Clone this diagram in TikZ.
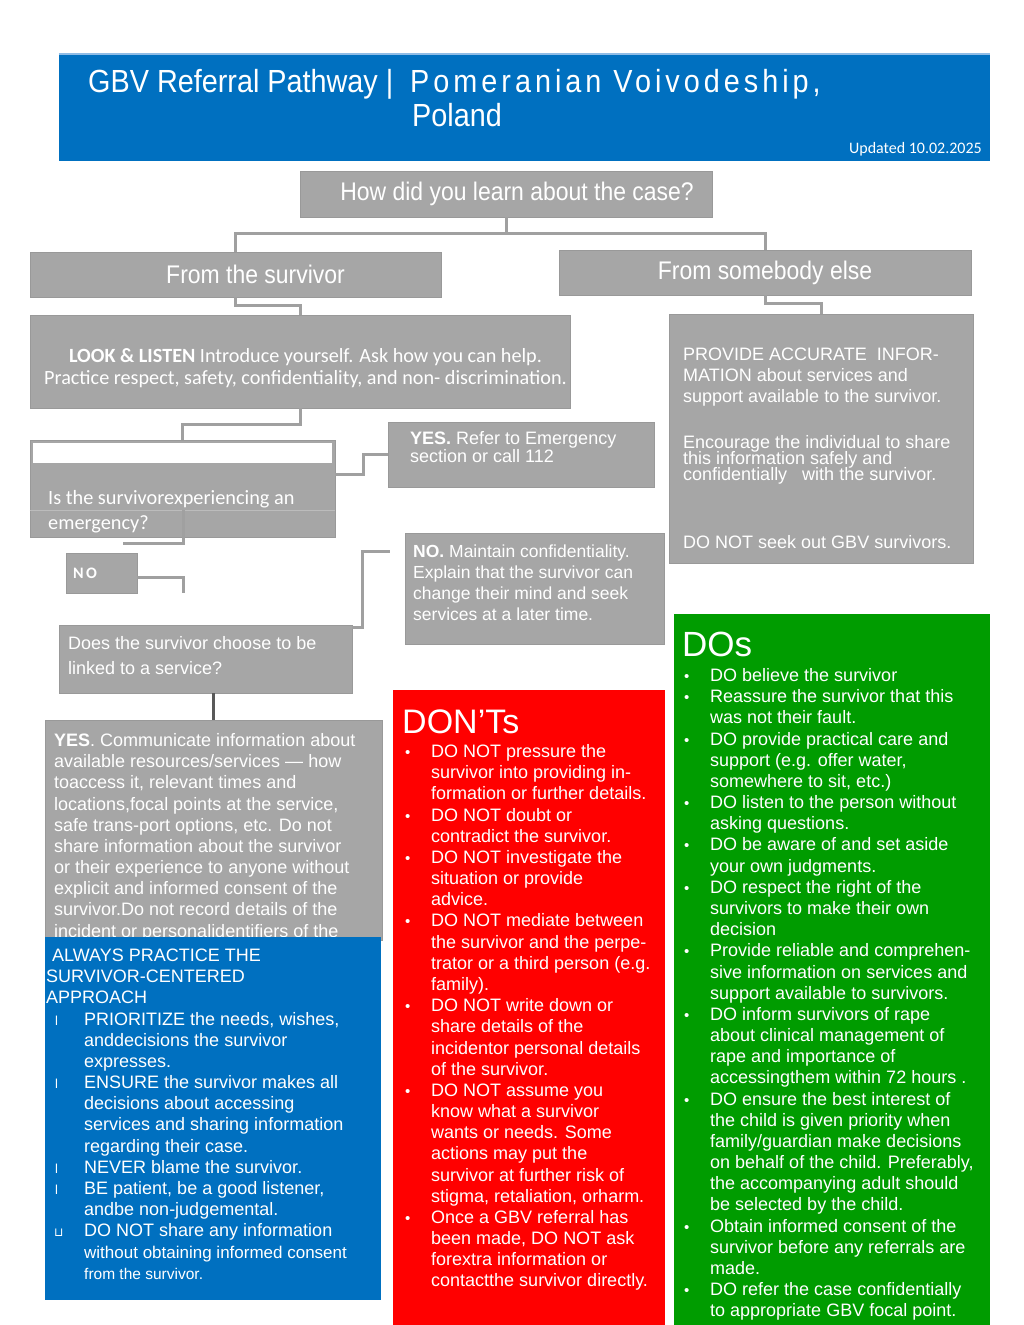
\documentclass[tikz,border=0pt]{standalone}
\usepackage{fontspec}
\setmainfont{Liberation Sans}
\newfontfamily\calib{Carlito}
\newfontfamily\narrowf{Liberation Sans}[FakeStretch=0.9]
\newfontfamily\dvs{DejaVu Sans}
\usetikzlibrary{calc}
\definecolor{gboxc}{HTML}{A6A6A6}
\definecolor{lnc}{HTML}{A0A0A0}
\definecolor{hblue}{HTML}{0070C0}
\definecolor{hline}{HTML}{8FBCE6}
\definecolor{dred}{HTML}{FF0000}
\definecolor{dgreen}{HTML}{009C00}
\newcommand\fsz[2]{\fontsize{#1}{#2}\selectfont\lineskiplimit=-50pt\relax}
\newcommand\lst{\fsz{18}{21.17}}
\newcommand\bl{\strut\makebox[26pt][l]{\fontsize{15}{15}\selectfont\textbullet}}
\newcommand\ci{\strut\hspace*{26pt}}
\newcommand\sbl{\strut\hspace*{9pt}\makebox[29pt][l]{\fontsize{13}{13}\selectfont l}}
\newcommand\sbu{\strut\hspace*{8pt}\makebox[30pt][l]{\dvs\fontsize{12}{12}\selectfont ⊔}}
\newcommand\sci{\strut\hspace*{38pt}}
\begin{document}
\begin{tikzpicture}[x=1pt,y=-1pt,
  gb/.style={fill=gboxc, draw=gboxc!92!black, line width=0.8pt, inner sep=0pt},
  conn/.style={draw=lnc, line width=3pt},
  wt/.style={inner sep=0pt, anchor=north west, align=left, text=white},
  head/.style={gb, text=white, font=\narrowf\fontsize{25.5}{28}\selectfont},
  plain/.style={fill=#1, inner sep=0pt}
]
\path[use as bounding box, fill=white] (0,0) rectangle (1024,1325);

% header
\node[plain=hblue, minimum width=931pt, minimum height=107pt] (hdr) at (524.5,107.5) {};
\draw[draw=hline, line width=1.5pt] (hdr.north west) -- (hdr.north east);
\node[anchor=base west, inner sep=0pt, text=white, font=\narrowf\fontsize{32}{36}\selectfont] (t1) at (88,92) {GBV Referral Pathway |};
\node[anchor=base west, inner sep=0pt, text=white, font=\narrowf\fontsize{32}{36}\selectfont\addfontfeature{LetterSpace=12.5}] (t2) at (410,92) {Pomeranian Voivodeship,};
\node[anchor=base west, inner sep=0pt, text=white, font=\narrowf\fontsize{32}{36}\selectfont] (t3) at (412,126) {Poland};
\node[anchor=base east, inner sep=0pt, text=white, font=\calib\fontsize{16}{18}\selectfont] (upd) at (982,153) {Updated 10.02.2025};

% heading boxes
\node[head, minimum width=412pt, minimum height=46pt] (q) at (506,194) {\hspace*{22pt}How did you learn about the case?};
\node[head, minimum width=411pt, minimum height=45pt] (fs) at (235.5,274.5) {\hspace*{40pt}From the survivor};
\node[head, minimum width=412pt, minimum height=45pt] (fe) at (765,272.5) {From somebody else};

% gray boxes
\node[gb, minimum width=540pt, minimum height=93pt] (look) at (300,361.5) {};
\node[gb, minimum width=304pt, minimum height=249pt] (prov) at (821,438.5) {};
\node[gb, minimum width=305pt, minimum height=97pt] (emerg) at (182.5,488.5) {};
\fill[white] ($(emerg.north west)+(3,3)$) rectangle ($(emerg.north east)+(-3,23)$);
\draw[draw=gboxc!75!white, line width=0.8pt] ($(emerg.west)+(0,21.5)$) -- ($(emerg.east)+(0,21.5)$);
\node[gb, minimum width=266pt, minimum height=65pt] (yesr) at (521,454.5) {};
\node[gb, minimum width=71pt, minimum height=40pt] (nobox) at (101.5,573) {};
\node[gb, minimum width=259pt, minimum height=111pt] (nom) at (534.5,588.5) {};
\node[gb, minimum width=293pt, minimum height=68pt] (does) at (205.5,659) {};
\node[gb, minimum width=337pt, minimum height=220pt] (yesc) at (213.5,830) {};

% connectors
\draw[conn] (q.south) -- ++(0,16) coordinate (qj) -| (fs.north);
\draw[conn] (qj) -| (fe.north);
\draw[conn] (fs.south) -- ++(0,8) -| (look.north);
\draw[conn] (fe.south) -- ++(0,8) -| (prov.north);
\draw[conn] (look.south) -- ++(0,16) -| (emerg.north);
\draw[conn] ($(emerg.north east)+(0,35)$) -- ++(28,0) |- (yesr.west);
\coordinate (ei) at (183,510);
\coordinate (eo) at (123,543);
\draw[conn] (ei) |- (eo);
\coordinate (nx) at (183,593);
\draw[conn] ($(nobox.east)+(0,4)$) -| (nx);
\coordinate (nm) at (390,551);
\draw[conn] ($(does.north east)+(0,3)$) -- ++(10,0) |- (nm);
\draw[line width=3pt, draw=black!65] (does.south -| yesc.north) -- (yesc.north);

% texts in gray boxes
\node[inner sep=0pt, anchor=north, align=center, text=white, font=\calib\fsz{20.2}{22}] (lookt) at (305.5,346.5)
 {\strut\textbf{LOOK \& LISTEN} Introduce yourself. Ask how you can help.\\\strut Practice respect, safety, confidentiality, and non- discrimination.};
\node[wt, font=\lst] (p1) at (683,345.0) {\strut PROVIDE ACCURATE\ \ INFOR-\\\strut MATION about services and\\\strut support available to the survivor.};
\node[wt, font=\fsz{18}{16}] (p2) at (683,435.2) {\strut Encourage the individual to share\\\strut this information safely and\\\strut confidentially\ \ \ with the survivor.};
\node[wt, font=\lst] (p3) at (683,533.6) {\strut DO NOT seek out GBV survivors.};
\node[wt, font=\calib\fsz{20.3}{25}] (emt) at (48,486.5) {\strut Is the survivorexperiencing an\\\strut emergency?};
\node[wt, font=\fsz{18}{18}] (yest) at (410,430.8) {\strut\textbf{YES.} Refer to Emergency\\\strut section or call 112};
\node[anchor=base west, inner sep=0pt, text=white, font=\calib\bfseries\fontsize{16}{18}\selectfont\addfontfeature{LetterSpace=15}] (not) at (73,578.2) {NO};
\node[wt, font=\fsz{17.5}{21}] (nomt) at (413,542.6) {\strut\textbf{NO.} Maintain confidentiality.\\\strut Explain that the survivor can\\\strut change their mind and seek\\\strut services at a later time.};
\node[wt, font=\fsz{18}{25}] (doest) at (68,631.9) {\strut Does the survivor choose to be\\\strut linked to a service?};
\node[wt, font=\lst] (yesct) at (54,731.6) {\strut\textbf{YES}. Communicate information about\\
\strut available resources/services — how\\
\strut toaccess it, relevant times and\\
\strut locations,focal points at the service,\\
\strut safe trans-port options, etc. Do not\\
\strut share information about the survivor\\
\strut or their experience to anyone without\\
\strut explicit and informed consent of the\\
\strut survivor.Do not record details of the\\
\strut incident or personalidentifiers of the};

% blue box
\node[plain=hblue, minimum width=336pt, minimum height=363pt] (alw) at (213,1118.5) {};
\node[wt, font=\lst] (alwt) at (46,946.6) {\strut\hspace*{6pt}ALWAYS PRACTICE THE\\\strut SURVIVOR-CENTERED\\\strut APPROACH\\
\sbl PRIORITIZE the needs, wishes,\\\sci anddecisions the survivor\\\sci expresses.\\
\sbl ENSURE the survivor makes all\\\sci decisions about accessing\\\sci services and sharing information\\\sci regarding their case.\\
\sbl NEVER blame the survivor.\\
\sbl BE patient, be a good listener,\\\sci andbe non-judgemental.\\
\sbu DO NOT share any information\\\sci{\fontsize{17}{21.17}\selectfont without obtaining informed consent}\\\sci{\fontsize{15.5}{21.17}\selectfont from the survivor.}};

% red box
\node[plain=dred, minimum width=272pt, minimum height=640pt] (dnt) at (529,1010) {};
\node[anchor=base west, inner sep=0pt, text=white, font=\fontsize{34}{36}\selectfont] (dntt) at (402,733) {DON’Ts};
\node[wt, font=\lst] (dntl) at (405,742.6) {\bl DO NOT pressure the\\\ci survivor into providing in-\\\ci formation or further details.\\
\bl DO NOT doubt or\\\ci contradict the survivor.\\
\bl DO NOT investigate the\\\ci situation or provide\\\ci advice.\\
\bl DO NOT mediate between\\\ci the survivor and the perpe-\\\ci trator or a third person (e.g.\\\ci family).\\
\bl DO NOT write down or\\\ci share details of the\\\ci incidentor personal details\\\ci of the survivor.\\
\bl DO NOT assume you\\\ci know what a survivor\\\ci wants or needs. Some\\\ci actions may put the\\\ci survivor at further risk of\\\ci stigma, retaliation, orharm.\\
\bl Once a GBV referral has\\\ci been made, DO NOT ask\\\ci forextra information or\\\ci contactthe survivor directly.};

% green box
\node[plain=dgreen, minimum width=316pt, minimum height=716pt] (dos) at (832,972) {};
\node[anchor=base west, inner sep=0pt, text=white, font=\fontsize{35}{36}\selectfont] (dost) at (682,656) {DOs};
\node[wt, font=\lst] (dosl) at (684,666.6) {\bl DO believe the survivor\\
\bl Reassure the survivor that this\\\ci was not their fault.\\
\bl DO provide practical care and\\\ci support (e.g. offer water,\\\ci somewhere to sit, etc.)\\
\bl DO listen to the person without\\\ci asking questions.\\
\bl DO be aware of and set aside\\\ci your own judgments.\\
\bl DO respect the right of the\\\ci survivors to make their own\\\ci decision\\
\bl Provide reliable and comprehen-\\\ci sive information on services and\\\ci support available to survivors.\\
\bl DO inform survivors of rape\\\ci about clinical management of\\\ci rape and importance of\\\ci accessingthem within 72 hours .\\
\bl DO ensure the best interest of\\\ci the child is given priority when\\\ci family/guardian make decisions\\\ci on behalf of the child. Preferably,\\\ci the accompanying adult should\\\ci be selected by the child.\\
\bl Obtain informed consent of the\\\ci survivor before any referrals are\\\ci made.\\
\bl DO refer the case confidentially\\\ci to appropriate GBV focal point.};
\end{tikzpicture}
\end{document}
